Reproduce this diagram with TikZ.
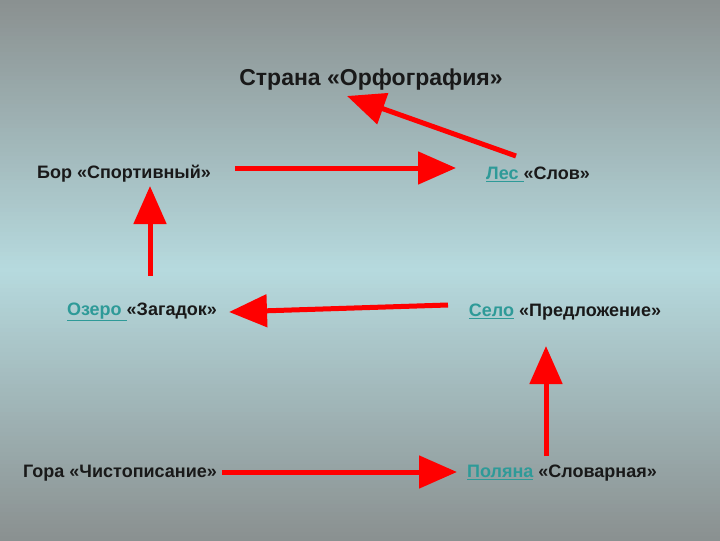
\documentclass[tikz,border=0pt]{standalone}
\usepackage{fontspec}
\setmainfont{Liberation Sans}
\usetikzlibrary{arrows.meta}
\definecolor{bggray}{HTML}{8A9090}
\definecolor{bgcyan}{HTML}{B6DADE}
\definecolor{linkteal}{HTML}{2E9A98}
\newcommand{\lnk}[1]{\textcolor{linkteal}{\underline{#1}}}
\begin{document}
\begin{tikzpicture}[x=1pt,y=-1pt,
  place/.style={font=\bfseries\fontsize{18}{20}\selectfont,text=black!90,inner sep=1pt},
  redarrow/.style={draw=red,line width=5pt,-{Triangle[length=38pt,width=32pt]}}]
  % background gradient, gray - cyan - gray
  \foreach \i in {0,4,...,536} {
    \pgfmathsetmacro{\mix}{100*(1-abs(\i+2-270)/270)}
    \fill[bgcyan!\mix!bggray] (0,\i) rectangle (720,\i+4.5);
  }
  \useasboundingbox (0,0) rectangle (720,540);

  \node[place,font=\bfseries\fontsize{23}{26}\selectfont] (strana) at (371,80) {Страна «Орфография»};
  \node[place] (bor) at (124,174) {Бор «Спортивный»};
  \node[place] (les) at (538,174) {\lnk{Лес\ }«Слов»};
  \node[place] (ozero) at (142,312) {\lnk{Озеро\ }«Загадок»};
  \node[place] (selo) at (565,312) {\lnk{Село} «Предложение»};
  \node[place] (gora) at (120,473) {Гора «Чистописание»};
  \node[place] (polyana) at (562,473) {\lnk{Поляна} «Словарная»};

  \coordinate (a1) at (235,168);
  \coordinate (b1) at (456,168);
  \coordinate (a2) at (516,156);
  \coordinate (b2) at (347,96);
  \coordinate (a3) at (150,276);
  \coordinate (b3) at (150,186);
  \coordinate (a4) at (448,305);
  \coordinate (b4) at (229,312);
  \coordinate (a5) at (222,472);
  \coordinate (b5) at (457,472);
  \coordinate (a6) at (546,456);
  \coordinate (b6) at (546,346);

  \draw[redarrow] (a1) -- (b1);
  \draw[redarrow] (a2) -- (b2);
  \draw[redarrow] (a3) -- (b3);
  \draw[redarrow] (a4) -- (b4);
  \draw[redarrow] (a5) -- (b5);
  \draw[redarrow] (a6) -- (b6);
\end{tikzpicture}
\end{document}
